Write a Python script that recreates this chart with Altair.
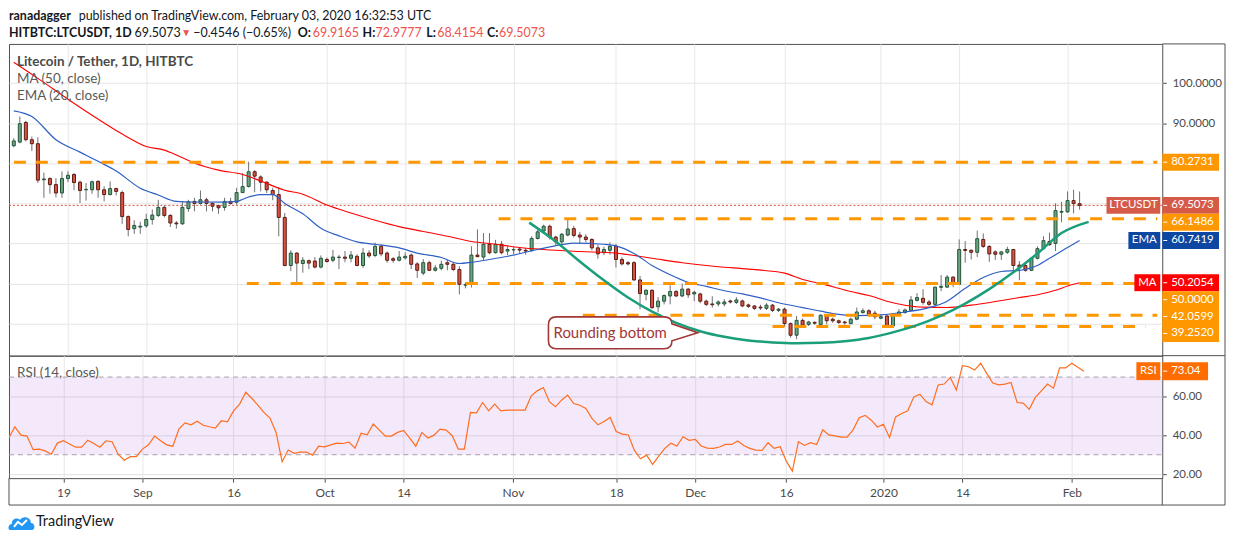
import altair as alt
import pandas as pd

FONT = "Lato"
START = "2019-08-10"

# ---------------- data ----------------
opens = [84.4, 85.3, 90.2, 85.9, 84.9, 75.9, 76.2, 74.7, 72.6, 76.2,
         77.2, 75.3, 73.4, 73.4, 75.5, 73.4, 72.2, 73.7, 72.7, 66.7,
         63.7, 64.1, 64.4, 66.0, 67.0, 69.0, 67.0, 65.1, 64.9, 68.7,
         70.5, 70.0, 70.9, 70.0, 69.4, 69.0, 70.5, 70.3, 72.7, 74.2,
         77.9, 76.6, 75.3, 73.2, 72.2, 66.5, 54.5, 57.6, 55.0, 55.7,
         55.6, 54.1, 56.0, 55.8, 56.5, 56.6, 56.3, 56.8, 54.5, 57.6,
         57.0, 59.3, 57.6, 56.2, 55.8, 56.4, 57.1, 54.9, 52.6, 55.2,
         53.3, 53.8, 55.2, 54.8, 53.5, 49.6, 49.8, 57.1, 56.6, 59.8,
         57.7, 59.8, 58.1, 58.4, 58.6, 58.3, 58.3, 61.25, 63.1, 64.3,
         61.6, 60.4, 62.1, 63.7, 62.1, 61.6, 61.0, 58.9, 57.7, 58.3,
         59.3, 56.0, 55.2, 55.2, 50.9, 47.3, 48.3, 44.2, 45.6, 46.9,
         48.0, 46.9, 48.6, 47.4, 47.4, 45.6, 44.9, 44.9, 44.9, 45.65,
         45.3, 45.65, 44.66, 44.4, 44.1, 43.8, 44.6, 43.3, 43.6, 40.0,
         37.1, 40.8, 39.8, 40.3, 39.8, 41.9, 41.1, 40.7, 40.4, 40.0,
         41.1, 42.75, 43.2, 42.6, 41.35, 41.9, 39.4, 42.3, 42.75, 43.3,
         45.8, 46.3, 45.4, 44.8, 49.05, 49.1, 51.6, 49.8, 58.5, 58.3,
         57.8, 61.0, 59.25, 57.9, 57.3, 57.8, 58.5, 54.6, 54.5, 53.3,
         56.3, 58.7, 60.5, 60.0, 67.8, 67.9, 70.7, 69.9165]
highs = [86.3, 91.7, 90.6, 86.7, 86.5, 77.7, 76.5, 76.3, 78.0, 78.0,
         77.6, 75.7, 75.1, 75.7, 75.8, 74.3, 75.5, 73.9, 73.2, 67.0,
         65.8, 65.4, 67.4, 68.5, 70.9, 69.5, 67.3, 65.6, 70.5, 70.9,
         71.4, 73.2, 71.4, 70.2, 69.7, 71.4, 71.4, 73.9, 77.6, 80.4,
         78.3, 77.0, 75.5, 73.9, 74.1, 67.6, 58.3, 57.8, 56.6, 56.0,
         56.6, 57.0, 56.5, 58.4, 57.1, 58.1, 58.1, 57.3, 58.9, 58.3,
         60.2, 59.7, 58.0, 56.6, 58.1, 57.8, 57.5, 55.3, 56.1, 55.7,
         54.6, 55.7, 55.9, 55.2, 54.3, 50.3, 59.3, 63.5, 62.6, 62.6,
         60.9, 60.6, 59.3, 59.1, 59.1, 58.9, 61.8, 63.5, 64.7, 64.7,
         61.9, 62.6, 66.2, 64.4, 62.9, 62.3, 61.3, 59.6, 59.2, 60.3,
         59.9, 56.6, 55.6, 55.6, 51.9, 48.6, 48.6, 46.6, 47.3, 49.6,
         48.4, 50.0, 48.9, 48.2, 47.7, 46.0, 46.8, 45.8, 46.1, 46.0,
         46.6, 46.0, 45.0, 44.6, 44.7, 45.1, 44.9, 43.9, 44.0, 40.3,
         41.9, 41.3, 40.7, 40.6, 42.3, 42.3, 41.5, 41.0, 40.7, 41.5,
         44.0, 43.8, 43.6, 43.2, 42.3, 42.3, 42.5, 43.6, 43.75, 46.9,
         47.6, 48.6, 45.9, 49.2, 52.1, 52.1, 51.8, 61.0, 60.6, 58.5,
         63.2, 62.5, 59.6, 58.3, 58.1, 59.2, 58.6, 55.6, 54.8, 56.6,
         59.3, 61.8, 62.7, 70.0, 70.4, 73.0, 73.4, 72.9777]
lows = [84.0, 85.0, 85.5, 83.1, 75.1, 71.4, 72.4, 71.5, 71.4, 75.3,
        73.3, 70.1, 70.7, 72.4, 71.4, 70.5, 72.0, 72.0, 64.9, 61.8,
        62.4, 62.4, 63.9, 64.7, 66.6, 66.5, 64.1, 63.7, 64.7, 67.9,
        68.0, 69.7, 68.0, 68.0, 67.4, 68.2, 69.7, 69.7, 72.7, 74.0,
        72.8, 73.0, 72.6, 70.8, 61.8, 54.3, 53.1, 50.0, 52.7, 53.6,
        53.8, 53.8, 55.2, 55.3, 53.6, 55.3, 55.3, 54.3, 53.9, 56.4,
        56.6, 56.8, 55.2, 55.2, 55.5, 56.0, 53.6, 51.4, 52.1, 53.1,
        53.0, 53.3, 53.3, 53.1, 47.3, 48.8, 49.0, 56.6, 55.9, 57.3,
        57.5, 57.3, 57.1, 57.3, 57.5, 57.2, 57.9, 61.0, 62.7, 61.0,
        59.6, 59.6, 61.8, 61.5, 60.1, 60.3, 58.3, 56.2, 57.1, 57.2,
        54.0, 54.5, 54.5, 50.7, 43.6, 45.8, 43.6, 42.8, 44.8, 44.8,
        46.6, 46.6, 46.4, 45.6, 45.1, 44.4, 44.0, 44.3, 44.3, 45.0,
        44.9, 44.1, 43.9, 43.4, 43.4, 43.4, 42.9, 42.9, 39.2, 36.5,
        36.1, 39.2, 39.4, 39.7, 39.4, 39.8, 40.2, 39.9, 39.7, 39.85,
        40.85, 42.5, 41.9, 41.1, 41.1, 39.2, 39.0, 42.0, 42.5, 43.2,
        45.5, 44.7, 44.4, 44.3, 48.1, 49.0, 49.1, 49.6, 55.2, 56.0,
        56.6, 58.9, 55.4, 55.9, 55.9, 57.4, 53.0, 50.8, 52.95, 53.1,
        56.0, 58.4, 59.4, 58.1, 65.3, 67.6, 67.5, 68.4154]
closes = [85.6, 89.9, 85.9, 84.9, 75.8, 76.1, 74.7, 72.6, 76.2, 77.0,
          75.2, 73.2, 73.5, 75.4, 73.4, 72.2, 73.7, 73.0, 66.7, 63.5,
          64.5, 64.3, 66.0, 67.1, 69.0, 67.0, 65.1, 64.9, 69.0, 70.4,
          70.0, 70.9, 70.0, 69.3, 68.9, 70.5, 70.0, 72.7, 74.2, 77.9,
          76.8, 75.3, 73.4, 72.2, 66.5, 54.5, 57.6, 55.1, 55.8, 55.1,
          54.1, 56.3, 55.5, 56.6, 56.6, 56.3, 57.1, 54.5, 57.6, 56.9,
          59.3, 57.4, 55.8, 55.8, 56.6, 56.8, 54.8, 53.3, 55.2, 53.3,
          53.9, 54.8, 54.8, 53.5, 49.8, 49.7, 57.1, 56.7, 59.8, 57.7,
          59.8, 57.7, 58.5, 58.45, 58.35, 58.1, 61.25, 62.9, 64.3, 61.6,
          60.4, 62.3, 63.6, 62.0, 61.6, 61.0, 58.9, 57.4, 58.5, 59.3,
          56.0, 54.9, 54.9, 50.9, 47.5, 48.3, 44.0, 45.6, 47.0, 48.0,
          46.9, 48.6, 47.2, 47.8, 45.6, 44.8, 44.7, 45.4, 45.4, 45.4,
          45.9, 44.4, 44.3, 43.8, 43.9, 44.6, 43.3, 43.6, 40.0, 37.1,
          40.8, 39.6, 40.4, 40.1, 42.1, 40.7, 40.7, 40.3, 40.2, 41.1,
          42.9, 43.2, 42.35, 41.7, 41.7, 39.4, 42.3, 42.9, 43.4, 45.9,
          46.5, 45.3, 44.8, 49.1, 49.3, 51.6, 49.8, 58.5, 58.26, 57.8,
          61.2, 59.25, 57.4, 57.3, 57.9, 58.5, 54.5, 54.1, 53.3, 56.3,
          58.7, 60.7, 59.7, 68.2, 68.0, 70.7, 69.96, 69.5073]
rsi_vals = [38.6, 44.4, 40.1, 39.6, 32.6, 32.9, 32.0, 30.3, 36.0, 37.2,
            35.5, 33.9, 33.9, 37.5, 35.8, 33.9, 37.2, 36.7, 30.3, 27.2,
            29.0, 29.0, 32.9, 35.1, 39.6, 37.2, 35.1, 34.4, 43.2, 46.4,
            45.4, 47.3, 45.2, 44.4, 43.7, 47.5, 47.0, 52.6, 56.1, 62.2,
            59.1, 55.5, 51.8, 48.9, 41.5, 26.4, 32.4, 30.7, 31.4, 31.4,
            29.8, 34.4, 34.1, 35.1, 36.0, 35.8, 36.5, 33.4, 41.1, 40.3,
            45.8, 42.7, 39.6, 39.6, 41.5, 42.5, 38.6, 34.4, 41.5, 38.6,
            40.1, 43.2, 42.7, 39.8, 32.9, 32.9, 51.8, 51.6, 56.9, 52.6,
            56.1, 52.6, 53.0, 53.0, 53.0, 53.0, 60.2, 62.9, 64.6, 57.3,
            54.7, 58.1, 60.7, 56.4, 55.5, 53.8, 48.7, 45.4, 47.1, 49.2,
            42.0, 40.6, 40.2, 32.2, 27.9, 29.8, 25.0, 29.3, 33.3, 35.9,
            34.5, 39.3, 37.4, 37.9, 34.5, 33.4, 33.3, 34.0, 35.3, 35.3,
            37.1, 34.8, 33.3, 32.4, 32.2, 36.2, 33.3, 34.1, 26.7, 21.6,
            36.7, 34.8, 36.2, 35.3, 42.9, 40.2, 39.7, 39.1, 39.1, 42.8,
            49.1, 50.3, 47.8, 44.3, 45.7, 38.8, 49.5, 51.2, 52.6, 59.8,
            61.2, 57.4, 55.7, 65.9, 66.4, 69.8, 63.3, 75.9, 75.3, 73.6,
            77.1, 71.9, 66.9, 66.0, 66.4, 67.2, 56.9, 56.6, 53.4, 59.5,
            62.9, 66.4, 64.3, 74.7, 74.7, 77.1, 75.0, 73.04]

# moving averages read at points along the drawn lines (day index from START)
ma_days = [0, 4, 9, 13, 18, 22, 25, 27, 30, 34, 38, 41, 45, 48, 52, 56, 60, 64,
           68, 72, 76, 80, 84, 88, 94, 100, 106, 111, 117, 122, 128, 131, 133,
           135, 137, 139, 142, 145, 148, 151, 155, 159, 163, 167, 170, 173, 175, 177]
ma_vals = [105.2, 101.2, 96.0, 92.0, 87.3, 84.2, 83.3, 82.1, 80.1, 78.3, 77.2,
           75.6, 73.3, 72.3, 69.6, 67.6, 65.8, 64.2, 63.0, 61.8, 60.5, 59.8,
           59.0, 58.5, 58.0, 57.6, 56.3, 55.2, 54.2, 53.6, 52.6, 51.0, 50.3,
           49.6, 48.8, 48.0, 47.0, 45.6, 44.6, 44.1, 44.0, 44.6, 45.5, 46.5,
           47.2, 48.3, 49.4, 50.2054]
ema_days = [0, 3, 7, 11, 14, 17, 21, 24, 27, 30, 35, 37, 39, 41, 43, 45, 48, 51,
            54, 57, 60, 64, 67, 71, 74, 76, 79, 82, 87, 91, 93, 98, 100, 103,
            106, 109, 112, 115, 118, 121, 124, 127, 131, 134, 137, 140, 144,
            148, 152, 155, 158, 161, 164, 167, 170, 172, 175, 177]
ema_vals = [93.1, 91.7, 85.9, 82.8, 80.5, 78.1, 73.8, 72.1, 70.5, 70.35, 70.3,
            70.5, 71.6, 72.2, 72.2, 70.0, 67.4, 63.8, 61.9, 60.4, 59.8, 58.9,
            57.6, 56.5, 55.0, 55.3, 56.0, 56.8, 58.5, 59.7, 60.1, 59.8, 59.4,
            57.5, 54.5, 52.2, 50.3, 49.3, 48.2, 47.4, 46.4, 45.2, 44.0, 43.1,
            42.3, 42.0, 42.2, 42.9, 44.0, 45.6, 48.8, 51.5, 53.0, 53.3, 54.5,
            56.3, 59.0, 60.7419]

# "rounding bottom" arc drawn on the chart
curve_days = [85.6, 90, 94, 98, 102, 106, 110, 114, 118, 122, 126, 130, 134,
              138, 142, 146, 150, 154, 158, 162, 166, 170, 174, 178.5]
curve_vals = [65.2, 60.5, 55.5, 50.8, 46.5, 43.0, 40.2, 38.1, 36.7, 35.8, 35.3,
              35.1, 35.2, 35.6, 36.4, 37.8, 39.6, 42.0, 45.0, 48.6, 52.8, 57.5,
              62.6, 65.4]

level_vals = [80.2731, 66.1486, 50.0, 42.0599, 39.2520]
level_start = [0.03, 80.5, 38.7, 94.5, 126.0]
level_end = [189.9, 189.9, 189.9, 189.9, 187.9]

last_close = 69.5073
ema_last = 60.7419
ma_last = 50.2054
rsi_last = 73.04

callout_day = 113.6
callout_price = 37.7
callout_text = "Rounding bottom"

tick_dates = ["2019-08-19", "2019-09-01", "2019-09-16", "2019-10-01",
              "2019-10-14", "2019-11-01", "2019-11-18", "2019-12-01",
              "2019-12-16", "2020-01-01", "2020-01-14", "2020-02-01"]
tick_labels = ["19", "Sep", "16", "Oct", "14", "Nov", "18", "Dec", "16",
               "2020", "14", "Feb"]

# ---------------- frames ----------------
n = len(closes)
dates = pd.date_range(START, periods=n, freq="D")
df = pd.DataFrame({
    "day": list(range(n)),
    "date": dates.strftime("%Y-%m-%d"),
    "open": opens, "high": highs, "low": lows, "close": closes,
    "rsi": rsi_vals,
})
df["dir"] = ["up" if c >= o else "down" for o, c in zip(opens, closes)]
tick_days = [(pd.Timestamp(d) - pd.Timestamp(START)).days for d in tick_dates]

ma_df = pd.DataFrame({"day": ma_days, "v": ma_vals})
ema_df = pd.DataFrame({"day": ema_days, "v": ema_vals})
curve_df = pd.DataFrame({"day": curve_days, "v": curve_vals})
lev_df = pd.DataFrame({"s": level_start, "e": level_end, "v": level_vals})

W, H1, H2 = 1158, 313, 123
FR = 1221  # outer frame right edge
FRAME = "#505050"

xscale = alt.Scale(domain=[0.03, 189.9], nice=False, zero=False)
yscale = alt.Scale(domain=[32.0, 109.8], nice=False, zero=False)
rscale = alt.Scale(domain=[17.95, 81.03], nice=False, zero=False)

label_expr = ""
for d, l in zip(tick_days, tick_labels):
    label_expr += f"datum.value == {d} ? '{l}' : "
label_expr += "''"

xaxis_main = alt.Axis(values=tick_days, grid=True, gridColor="#e8e8e8",
                      labels=False, ticks=False, domain=False, title=None)
xaxis_rsi = alt.Axis(values=tick_days, labelExpr=label_expr, grid=True,
                     gridColor="#e8e8e8", domain=False, ticks=True, tickSize=4,
                     tickColor=FRAME, labelColor="#4a4a4a", labelFontSize=12,
                     labelFont=FONT, labelPadding=5, labelOverlap=False,
                     labelFlush=False, title=None)
yaxis_main = alt.Axis(orient="right", values=list(range(40, 101, 10)),
                      labelExpr="datum.value >= 90 ? format(datum.value, '.4f') : ''",
                      grid=True, gridColor="#e6e6e6", domain=False, tickSize=4,
                      tickColor=FRAME, labelColor="#4a4a4a", labelFontSize=11.5,
                      labelFont=FONT, labelPadding=6, title=None)
yaxis_rsi = alt.Axis(orient="right", values=[20, 40, 60], format=".2f",
                     grid=True, gridColor="#e2e2e2", domain=False, tickSize=4,
                     tickColor=FRAME, labelColor="#4a4a4a", labelFontSize=11.5,
                     labelFont=FONT, labelPadding=6, title=None)


def XM(f):
    return alt.X(f, type="quantitative", scale=xscale, axis=xaxis_main)


def YM(f):
    return alt.Y(f, type="quantitative", scale=yscale, axis=yaxis_main)


def XR(f):
    return alt.X(f, type="quantitative", scale=xscale, axis=xaxis_rsi)


def YR(f):
    return alt.Y(f, type="quantitative", scale=rscale, axis=yaxis_rsi)


ONE = alt.Data(values=[{}])


def txt(s, x, y, size=13, color="#131722", weight="normal", align="left"):
    return alt.Chart(ONE).mark_text(
        align=align, baseline="middle", fontSize=size, color=color,
        fontWeight=weight, font=FONT
    ).encode(x=alt.value(x), y=alt.value(y), text=alt.value(s))


def hline(x1, x2, y):
    return alt.Chart(ONE).mark_rule(color=FRAME, strokeWidth=1).encode(
        x=alt.value(x1), x2=alt.value(x2), y=alt.value(y))


def vline(x, y1, y2):
    return alt.Chart(ONE).mark_rule(color=FRAME, strokeWidth=1).encode(
        x=alt.value(x), y=alt.value(y1), y2=alt.value(y2))


def price_label(price, text, color, Y, name=None, name_w=0, off=0.0, h=17, vw=57):
    d = alt.Data(values=[{"p": price}])
    b = alt.Chart(d)
    hh = h / 2
    layers = [
        b.mark_point(shape=f"M0,-{hh}H{vw}V{hh}H0Z", size=4, filled=True,
                     color=color, opacity=1, yOffset=off).encode(
            x=alt.value(W), y=Y("p")),
        b.mark_rule(color="white", strokeWidth=1, yOffset=off).encode(
            x=alt.value(W + 1), x2=alt.value(W + 5), y=Y("p")),
        b.mark_text(align="left", baseline="middle", color="white",
                    fontSize=11.5, font=FONT, dy=off).encode(
            x=alt.value(W + 9), y=Y("p"), text=alt.value(text)),
    ]
    if name:
        layers += [
            b.mark_point(shape=f"M-{name_w + 2},-{hh}H-2V{hh}H-{name_w + 2}Z",
                         size=4, filled=True, color=color, opacity=1,
                         yOffset=off).encode(x=alt.value(W), y=Y("p")),
            b.mark_text(align="center", baseline="middle", color="white",
                        fontSize=11.5, font=FONT, dy=off).encode(
                x=alt.value(W - 2 - name_w / 2), y=Y("p"), text=alt.value(name)),
        ]
    return layers


UP_FILL, DN_FILL = "#6ba583", "#d75442"
UP_LINE, DN_LINE = "#225437", "#5b1a13"

base = alt.Chart(df)
wicks = base.mark_rule(color="#6f6f72", strokeWidth=1, clip=True).encode(
    x=XM("day"), y=YM("low"), y2="high")
bodies = base.mark_bar(size=3, strokeWidth=1, clip=True).encode(
    x=XM("day"), y=YM("open"), y2="close",
    fill=alt.Fill("dir:N", scale=alt.Scale(domain=["up", "down"], range=[UP_FILL, DN_FILL]), legend=None),
    stroke=alt.Stroke("dir:N", scale=alt.Scale(domain=["up", "down"], range=[UP_LINE, DN_LINE]), legend=None),
)
last_line = alt.Chart(alt.Data(values=[{"p": last_close}])).mark_rule(
    color="#d75442", strokeDash=[2, 2], strokeWidth=1).encode(
    x=alt.value(0), x2=alt.value(W), y=YM("p"))
ma_line = alt.Chart(ma_df).mark_line(color="#ff0000", strokeWidth=1.1,
                                     interpolate="monotone", clip=True).encode(
    x=XM("day"), y=YM("v"))
ema_line = alt.Chart(ema_df).mark_line(color="#2d5fc4", strokeWidth=1.2,
                                       interpolate="monotone", clip=True).encode(
    x=XM("day"), y=YM("v"))
levels = alt.Chart(lev_df).mark_rule(color="#ff9800", strokeWidth=3,
                                     strokeDash=[12, 10], clip=True).encode(
    x=XM("s"), x2="e", y=YM("v"))
curve = alt.Chart(curve_df).mark_line(color="#1b9e7a", strokeWidth=2.5,
                                      interpolate="monotone", clip=True).encode(
    x=XM("day"), y=YM("v"))

cdata = alt.Data(values=[{"d": callout_day, "p": callout_price}])
callout_path = ("M-142,-16H-34Q-26,-16 -26,-9L0,0L-26,8Q-26,16 -34,16"
                "H-142Q-150,16 -150,8V-8Q-150,-16 -142,-16Z")
callout = alt.Chart(cdata).mark_point(
    shape=callout_path, size=4, filled=True, fill="white", stroke="#a33636",
    strokeWidth=1.6, opacity=1, fillOpacity=1, strokeOpacity=1).encode(
    x=XM("d"), y=YM("p"))
callout_txt = alt.Chart(cdata).mark_text(
    align="center", baseline="middle", fontSize=15, color="#a33636",
    font=FONT, dx=-88).encode(x=XM("d"), y=YM("p"), text=alt.value(callout_text))

main_layers = [last_line, wicks, bodies, ma_line, ema_line, levels, curve,
               callout, callout_txt]

# legend texts
main_layers += [
    txt("Litecoin / Tether, 1D, HITBTC", 8, 18, 13.5, "#4a4a4a", "bold"),
    txt("MA (50, close)", 8, 35, 13.5, "#5a5a5a"),
    txt("EMA (20, close)", 8, 52, 13.5, "#5a5a5a"),
]
# header
RED = "#ef5350"
HS = 12.5
L1, L2 = -28, -10.5
main_layers += [
    txt("ranadagger", 0, L1, HS, "#131722", "bold"),
    txt("published on TradingView.com, February 03, 2020 16:32:53 UTC", 70, L1, HS),
    txt("HITBTC:LTCUSDT, 1D", 0, L2, HS, "#131722", "bold"),
    txt("69.5073", 126, L2, HS),
    txt("\u25BC", 173, L2, 10, RED),
    txt("\u22120.4546 (\u22120.65%)", 185, L2, HS),
    txt("O:", 290, L2, HS, "#131722", "bold"),
    txt("69.9165", 305, L2, HS, RED),
    txt("H:", 355, L2, HS, "#131722", "bold"),
    txt("72.9777", 368, L2, HS, RED),
    txt("L:", 419, L2, HS, "#131722", "bold"),
    txt("68.4154", 430, L2, HS, RED),
    txt("C:", 480, L2, HS, "#131722", "bold"),
    txt("69.5073", 492, L2, HS, RED),
]
# price scale labels
ORANGE = "#ff9800"
main_layers += price_label(level_vals[0], "80.2731", ORANGE, YM)
main_layers += price_label(last_close, "69.5073", "#d65a48", YM, "LTCUSDT", 54)
main_layers += price_label(level_vals[1], "66.1486", ORANGE, YM, off=3.4)
main_layers += price_label(ema_last, "60.7419", "#0d47a1", YM, "EMA", 32)
main_layers += price_label(ma_last, "50.2054", "#ff0000", YM, "MA", 26)
main_layers += price_label(level_vals[2], "50.0000", ORANGE, YM, off=16.2)
main_layers += price_label(level_vals[3], "42.0599", ORANGE, YM, off=1.2)
main_layers += price_label(level_vals[4], "39.2520", ORANGE, YM, off=6.9)
# frame pieces outside the plot
main_layers += [hline(W, FR, 0), vline(FR, 0, H1), hline(W, FR, H1)]

main = alt.layer(*main_layers).properties(width=W, height=H1)

# ---------------- RSI pane ----------------
band = alt.Chart(alt.Data(values=[{"a": 70, "b": 30}])).mark_rect(
    color="#8e24d8", opacity=0.1).encode(
    x=alt.value(0), x2=alt.value(W), y=YR("a"), y2="b")
bands = alt.Chart(alt.Data(values=[{"v": 70}, {"v": 30}])).mark_rule(
    color="#a6a0aa", strokeDash=[5, 4], strokeWidth=1).encode(
    x=alt.value(0), x2=alt.value(W), y=YR("v"))
rsi_line = alt.Chart(df).mark_line(color="#ff6d1f", strokeWidth=1.2, clip=True).encode(
    x=XR("day"), y=YR("rsi"))

rsi_layers = [band, bands, rsi_line,
              txt("RSI (14, close)", 8, 17, 13.5, "#5a5a5a")]
rsi_layers += price_label(rsi_last, "73.04", "#ff6d00", YR, "RSI", 24, h=18, vw=46)
rsi_layers += [vline(FR, 0, 150), hline(0, FR, 150), vline(0, H2, 150),
               vline(W, H2, 150)]
# TradingView logo
icon = ("M-11,7L11,7C14.5,7 14.5,0 10,0C10,-6 2,-8 -1,-3"
        "C-4,-6 -10,-4 -9,1C-13,1 -13.5,7 -11,7Z")
rsi_layers += [
    alt.Chart(ONE).mark_point(shape=icon, size=4, filled=True, color="#2196f3",
                              opacity=1).encode(x=alt.value(12), y=alt.value(168)),
    alt.Chart(ONE).mark_point(shape="M-7,4L-3,-1L1,2L6,-3", size=4, filled=False,
                              color="white", strokeWidth=2, opacity=1).encode(
        x=alt.value(12), y=alt.value(168)),
    txt("TradingView", 27, 167, 14.5, "#131722"),
]

rsi = alt.layer(*rsi_layers).properties(width=W, height=H2)

chart = alt.vconcat(main, rsi, spacing=0, bounds="flush").properties(
    padding={"left": -1, "top": 0, "right": 0, "bottom": 0}
).configure(background="white").configure_view(stroke=FRAME, strokeWidth=1)

chart.save("out.html", embed_options={"renderer": "svg", "actions": False})
